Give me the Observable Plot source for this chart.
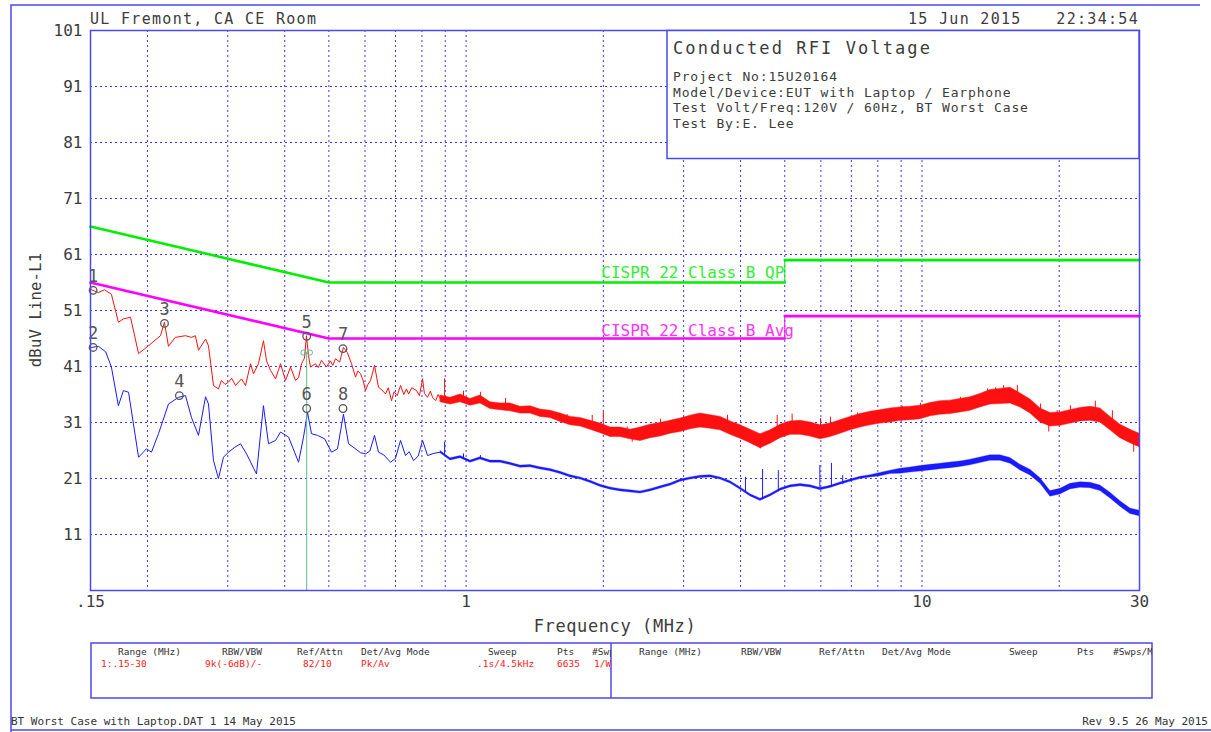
<!DOCTYPE html>
<html><head><meta charset="utf-8">
<script src="https://cdn.jsdelivr.net/npm/d3@7"></script>
<script src="https://cdn.jsdelivr.net/npm/@observablehq/plot@0.6"></script>
<style>
body{margin:0;background:#fff;}
#chart{width:1211px;height:732px;}
</style></head><body><div id="chart"></div>
<script>
const FONT = "'DejaVu Sans Mono', monospace";

// ---------- data ----------
// Peak (red) trace, low frequency part (MHz, dBuV)
const peakFreq = [0.15,0.1508,0.156,0.161,0.1667,0.1727,0.1771,0.1836,0.1912,0.201,0.2136,0.2179,0.2224,0.2302,0.2424,0.2498,0.2548,0.2588,0.2682,0.2722,0.2792,0.2863,0.2906,0.296,0.3011,0.306,0.312,0.3216,0.3282,0.3366,0.3417,0.3504,0.3593,0.365,0.3724,0.382,0.3917,0.4017,0.412,0.4225,0.429,0.4355,0.442,0.4466,0.451,0.4557,0.4673,0.474,0.4818,0.4941,0.504,0.51,0.517,0.528,0.5382,0.549,0.5606,0.572,0.579,0.5867,0.594,0.6017,0.609,0.6171,0.6296,0.6424,0.654,0.6656,0.675,0.6861,0.695,0.706,0.7181,0.73,0.74,0.7477,0.76,0.7786,0.79,0.8026,0.81,0.823,0.835,0.845,0.8575,0.868,0.8789];
const peakLevel = [55.0,54.7,54.2,54.7,53.9,48.9,49.5,49.8,43.3,44.7,46.5,48.9,44.6,46.2,46.5,46.2,46.5,43.9,45.9,44.7,37.6,37.0,38.5,37.8,38.2,38.9,37.6,38.8,37.6,41.5,39.7,41.5,45.6,42.0,40.3,38.8,41.5,38.5,40.9,38.5,39.0,41.5,42.5,46.5,43.0,40.9,41.5,40.8,42.1,40.9,42.0,41.2,42.4,41.8,44.4,43.5,41.5,39.1,40.2,39.7,38.6,36.7,37.8,38.5,41.2,37.3,36.8,36.1,37.2,34.9,36.5,35.8,37.6,36.0,37.0,36.1,37.2,36.7,35.8,38.8,36.2,35.5,36.6,35.4,34.9,36.0,35.2];

// Average (blue) trace, low frequency part
const avgFreq = [0.15,0.1508,0.1562,0.162,0.1667,0.1727,0.1771,0.1818,0.1912,0.199,0.2041,0.2115,0.2224,0.234,0.2424,0.2498,0.2588,0.2682,0.2722,0.2792,0.2863,0.2936,0.3011,0.31,0.32,0.3299,0.3469,0.3593,0.3686,0.382,0.3917,0.4079,0.429,0.4399,0.4489,0.458,0.4722,0.4893,0.5068,0.5223,0.5382,0.5522,0.572,0.5867,0.6017,0.615,0.6296,0.6424,0.66,0.6827,0.7,0.7181,0.7363,0.75,0.767,0.785,0.8026,0.823,0.85,0.8789];
const avgLevel = [44.2,44.4,44.6,43.6,40.9,34.0,36.7,36.4,24.8,26.3,25.7,29.0,34.3,35.5,35.8,31.9,28.7,35.6,34.3,24.2,21.0,24.8,25.7,26.5,27.2,25.4,21.8,34.0,27.2,27.8,29.3,28.4,23.9,28.4,32.8,29.0,28.7,28.1,25.7,26.3,32.5,27.2,26.3,25.6,25.4,25.9,28.7,25.7,25.2,23.9,24.6,27.8,25.1,25.8,24.2,25.0,27.8,25.1,25.5,25.7];

// Dense sweep region (0.88 - 30 MHz): band envelope of each trace
const bandFreq = [0.879,0.924,0.972,1.022,1.075,1.131,1.19,1.251,1.316,1.384,1.456,1.531,1.611,1.695,1.782,1.875,1.972,2.074,2.181,2.294,2.413,2.538,2.67,2.808,2.953,3.106,3.267,3.436,3.614,3.801,3.998,4.205,4.423,4.652,4.893,5.147,5.413,5.694,5.989,6.299,6.625,6.968,7.329,7.709,8.108,8.528,8.97,9.435,9.923,10.44,10.98,11.55,12.14,12.77,13.43,14.13,14.86,15.63,16.44,17.29,18.19,19.13,20.12,21.16,22.26,23.41,24.62,25.9,27.24,28.65,30.0];
const peakBandLo = [34.6,34.2,34.6,34.0,34.4,33.4,33.2,33.0,32.6,32.6,32.0,31.8,31.1,30.5,30.3,29.7,29.1,28.4,28.4,28.0,27.7,28.2,28.5,29.0,29.3,29.8,30.1,29.9,29.6,28.8,28.1,27.3,26.4,27.2,28.2,28.8,28.8,28.5,28.0,28.4,29.0,29.6,30.1,30.5,30.8,31.0,31.3,31.4,31.6,32.1,32.4,32.5,32.8,33.1,33.7,34.2,34.3,34.4,33.7,32.6,31.0,30.3,30.4,30.8,31.2,31.3,31.0,29.6,28.2,27.3,26.6];
const peakBandHi = [35.8,35.4,36.0,35.2,35.8,34.6,34.4,34.4,33.8,33.9,33.3,33.1,32.6,32.0,31.8,31.3,30.8,30.1,30.1,29.7,30.1,30.6,30.9,31.3,31.7,32.2,32.6,32.3,32.0,31.2,30.5,29.7,28.9,29.6,30.6,31.2,31.3,31.0,30.5,30.8,31.4,32.0,32.5,32.9,33.2,33.5,33.7,33.8,34.0,34.5,34.8,34.9,35.2,35.5,36.1,36.8,37.0,37.2,36.2,35.1,33.5,32.7,32.8,33.2,33.6,33.8,33.5,32.0,30.6,29.7,29.0];
const avgBandLo = [25.5,24.2,24.6,23.8,24.4,23.8,23.8,23.4,22.9,23.0,22.6,22.3,21.8,21.2,20.8,20.2,19.5,19.0,18.7,18.5,18.3,18.7,19.2,19.7,20.4,20.8,21.1,21.2,20.8,20.1,19.0,17.8,17.0,17.8,18.8,19.4,19.6,19.4,18.9,19.3,19.9,20.4,20.9,21.2,21.4,21.8,21.85,22.05,22.25,22.45,22.65,22.85,23.05,23.35,23.75,24.15,24.15,23.65,22.45,21.55,20.05,17.75,18.15,19.05,19.35,19.25,18.75,17.45,15.95,14.65,14.25];
const avgBandHi = [25.9,24.6,25.0,24.2,24.8,24.2,24.2,23.8,23.3,23.4,23.0,22.7,22.2,21.6,21.2,20.6,19.9,19.4,19.1,18.9,18.7,19.1,19.6,20.1,20.8,21.2,21.5,21.6,21.2,20.5,19.4,18.2,17.4,18.2,19.2,19.8,20.0,19.8,19.3,19.7,20.3,20.8,21.3,21.6,22.0,22.4,22.75,22.95,23.25,23.45,23.65,23.85,24.05,24.35,24.75,25.15,25.15,24.65,23.45,22.55,21.05,18.75,19.15,20.05,20.35,20.25,19.75,18.45,16.95,15.65,15.25];

// Narrow spikes in the dense region
const peakSpikeFreq = [0.897,0.987,1.075,1.22,1.316,1.456,1.666,1.782,1.891,2.0,2.256,2.314,2.454,2.67,2.855,3.218,3.379,3.744,3.998,4.269,4.423,4.812,5.19,5.989,6.299,7.22,7.974,9.06,9.923,10.80,12.14,12.88,13.92,14.5,15.1,16.19,18.19,18.97,19.79,21.16,24.0,26.16,29.13];
const peakSpikeLo = [34.8,35.0,35.0,34.0,32.8,32.3,31.5,30.8,30.5,29.5,29.0,27.5,29.0,29.5,30.3,30.5,31.0,29.8,29.5,26.9,26.3,29.5,30.0,28.1,30.0,30.5,31.5,31.5,33.0,33.0,33.5,34.0,35.0,35.5,35.5,35.0,32.5,29.3,31.5,32.0,32.5,31.0,25.7];
const peakSpikeHi = [38.8,36.6,36.4,35.3,33.7,33.1,32.4,31.7,32.25,32.8,30.2,28.5,29.9,31.6,31.4,32.0,32.25,32.3,30.5,28.0,28.7,32.25,32.5,31.7,31.95,32.7,33.1,33.9,34.45,34.6,35.5,35.6,37.0,37.2,37.6,37.6,34.3,31.0,33.1,34.0,34.8,33.1,27.5];
const avgSpikeFreq = [0.897,0.987,1.075,4.10,4.47,4.84,5.97,6.33,6.70];
const avgSpikeLo = [25.2,24.4,24.4,18.4,17.2,18.6,19.1,19.5,19.9];
const avgSpikeHi = [27.5,25.4,25.1,21.2,22.6,22.4,23.3,23.7,21.5];

// CISPR 22 Class B limits
const qpFreq = [0.15,0.5,5,5,30];
const qpLevel = [66,56,56,60,60];
const limitSeg = ["a","a","a","b","b"];
const avLimitFreq = [0.15,0.5,5,5,30];
const avLimitLevel = [56,46,46,50,50];
const limitStepFreq = 5;
const limitLabels = ["CISPR 22 Class B QP","CISPR 22 Class B Avg"];
const limitLabelFreq = [1.98,1.98];
const limitLabelLevel = [57.7,47.4];

// Markers
const markerLabel = ["1","2","3","4","5","6","7","8"];
const markerFreq = [0.152,0.152,0.218,0.235,0.447,0.447,0.537,0.537];
const markerLevel = [54.6,44.4,48.7,35.8,46.4,33.5,44.2,33.5];
const cursorFreq = 0.447;
const cursorLevel = 43.5;

// Axes
const yTicks = [11,21,31,41,51,61,71,81,91,101];
const xTicks = [0.15,1,10,30];
const xTickLabels = [".15","1","10","30"];
const xGrid = [0.2,0.3,0.4,0.5,0.6,0.7,0.8,0.9,1,2,3,4,5,6,7,8,9,10,20];
const yGrid = [11,21,31,41,51,61,71,81,91];

// Text furniture
const headerLeft = "UL Fremont, CA CE Room";
const headerDate = "15 Jun 2015";
const headerTime = "22:34:54";
const yTitle = "dBuV Line-L1";
const xTitle = "Frequency (MHz)";
const infoTitle = "Conducted RFI Voltage";
const infoLines = ["Project No:15U20164","Model/Device:EUT with Laptop / Earphone","Test Volt/Freq:120V / 60Hz, BT Worst Case","Test By:E. Lee"];
const tableHeads = ["Range (MHz)","RBW/VBW","Ref/Attn","Det/Avg Mode","Sweep","Pts","#Swp"];
const tableHeads2 = ["Range (MHz)","RBW/VBW","Ref/Attn","Det/Avg Mode","Sweep","Pts","#Swps/M"];
const tableRow = ["1:.15-30","9k(-6dB)/-","82/10","Pk/Av",".1s/4.5kHz","6635","1/W"];
const footerLeft = "BT Worst Case with Laptop.DAT 1 14 May 2015";
const footerRight = "Rev 9.5 26 May 2015";

// ---------- chart ----------
const RED = "#ff1010", BLUE = "#1a1aff", GRID = "#3a3aff", FRAME = "#4a4aee";
const GREEN = "#00ee00", MAG = "#ff00ff", TXT = "#3c3c3c", CURSOR = "#5cb890";
const xLab = new Map(xTicks.map((t,i)=>[t,xTickLabels[i]]));
const idx = a => a.map((_,i)=>i);

const plot = Plot.plot({
  width:1211, height:732,
  marginLeft:90, marginRight:72, marginTop:30, marginBottom:142,
  style:{fontFamily:FONT, fontSize:"16px", background:"#fff", color:TXT},
  x:{type:"log", domain:[0.15,30]},
  y:{domain:[1,101]},
  marks:[
    Plot.ruleX(xGrid,{stroke:GRID, strokeDasharray:"2,3", strokeWidth:1}),
    Plot.ruleY(yGrid,{stroke:GRID, strokeDasharray:"2,3", strokeWidth:1}),
    Plot.axisX(xTicks,{tickSize:0, tickPadding:5, tickFormat:d=>xLab.get(d), label:null, fill:TXT, fontSize:16}),
    Plot.axisY(yTicks,{tickSize:0, tickPadding:8, label:null, fill:TXT, fontSize:16}),
    // limits
    Plot.line(idx(qpFreq),{x:i=>qpFreq[i], y:i=>qpLevel[i], z:i=>limitSeg[i], stroke:GREEN, strokeWidth:2.6}),
    Plot.line(idx(avLimitFreq),{x:i=>avLimitFreq[i], y:i=>avLimitLevel[i], z:i=>limitSeg[i], stroke:MAG, strokeWidth:2.6}),
    Plot.ruleX([limitStepFreq],{y1:qpLevel[2], y2:qpLevel[3], stroke:GREEN, strokeWidth:1}),
    Plot.ruleX([limitStepFreq],{y1:avLimitLevel[2], y2:avLimitLevel[3], stroke:MAG, strokeWidth:1}),
    Plot.text(idx(limitLabels),{x:i=>limitLabelFreq[i], y:i=>limitLabelLevel[i], text:i=>limitLabels[i],
      fill:i=>i===0?"#33ee33":"#ff33ff", textAnchor:"start", fontSize:16, fontFamily:FONT, letterSpacing:"1.2px"}),
    // peak trace
    Plot.line(idx(peakFreq),{x:i=>peakFreq[i], y:i=>peakLevel[i], stroke:RED, strokeWidth:1}),
    Plot.areaY(idx(bandFreq),{x:i=>bandFreq[i], y1:i=>peakBandLo[i], y2:i=>peakBandHi[i], fill:RED, stroke:RED, strokeWidth:0.5}),
    Plot.ruleX(idx(peakSpikeFreq),{x:i=>peakSpikeFreq[i], y1:i=>peakSpikeLo[i], y2:i=>peakSpikeHi[i], stroke:RED, strokeWidth:1}),
    // average trace
    Plot.line(idx(avgFreq),{x:i=>avgFreq[i], y:i=>avgLevel[i], stroke:BLUE, strokeWidth:1}),
    Plot.areaY(idx(bandFreq),{x:i=>bandFreq[i], y1:i=>avgBandLo[i], y2:i=>avgBandHi[i], fill:BLUE, stroke:BLUE, strokeWidth:0.3}),
    Plot.ruleX(idx(avgSpikeFreq),{x:i=>avgSpikeFreq[i], y1:i=>avgSpikeLo[i], y2:i=>avgSpikeHi[i], stroke:BLUE, strokeWidth:1}),
    // cursor with its double-circle readout symbol
    Plot.ruleX([cursorFreq],{y1:1, y2:cursorLevel, stroke:CURSOR, strokeWidth:1}),
    Plot.dot([cursorFreq],{x:d=>d, y:cursorLevel, r:2.6, stroke:CURSOR, strokeWidth:1, fill:"none", dx:-3.2}),
    Plot.dot([cursorFreq],{x:d=>d, y:cursorLevel, r:2.6, stroke:CURSOR, strokeWidth:1, fill:"none", dx:3.2}),
    // markers: small circle at the marked point, number above
    Plot.dot(idx(markerLabel),{x:i=>markerFreq[i], y:i=>markerLevel[i], r:3.8, stroke:"#555", strokeWidth:1.3, fill:"none"}),
    Plot.text(idx(markerLabel),{x:i=>markerFreq[i], y:i=>markerLevel[i], text:i=>markerLabel[i],
      fill:"#555", fontSize:17, fontFamily:FONT, dy:-14}),
    Plot.frame({stroke:FRAME, strokeWidth:1.5})
  ]
});
document.getElementById("chart").appendChild(plot);

// ---------- page furniture ----------
const svg = d3.select(plot);
function txt(x, y, s, o = {}) {
  return svg.append("text").attr("x", x).attr("y", y).text(s)
    .attr("font-family", FONT).attr("font-size", o.size || 15)
    .attr("fill", o.fill || TXT).attr("text-anchor", o.anchor || "start")
    .attr("letter-spacing", o.ls != null ? o.ls : 0)
    .attr("transform", o.rotate ? `rotate(-90 ${x} ${y})` : null);
}
// outer frame
svg.append("path").attr("d","M11,732 L11,5 L1200,5").attr("fill","none").attr("stroke",FRAME).attr("stroke-width",1.5);
svg.append("line").attr("x1",11).attr("x2",1211).attr("y1",730).attr("y2",730).attr("stroke",FRAME).attr("stroke-width",1.5);
// header
txt(90, 24, headerLeft, {size:15, ls:1.3});
txt(908, 24, headerDate, {size:15, ls:1.3});
txt(1139, 24, headerTime, {size:15, ls:1.3, anchor:"end"});
// axis titles
txt(41, 310, yTitle, {size:15.5, anchor:"middle", rotate:true, ls:0.2});
txt(615, 632, xTitle, {size:17, anchor:"middle", ls:0.6});
// info box
svg.append("rect").attr("x",667).attr("y",30.5).attr("width",472).attr("height",128).attr("fill","#fff").attr("stroke",FRAME).attr("stroke-width",1.5);
txt(673, 54, infoTitle, {size:17, ls:2.1});
infoLines.forEach((s,i)=>txt(673, 81 + i*15.6, s, {size:13, ls:0.85}));
// bottom table
svg.append("rect").attr("x",91).attr("y",643).attr("width",1061).attr("height",55).attr("fill","none").attr("stroke",FRAME).attr("stroke-width",1.5);
svg.append("line").attr("x1",611).attr("x2",611).attr("y1",643).attr("y2",698).attr("stroke",FRAME).attr("stroke-width",1.5);
svg.append("clipPath").attr("id","cl").append("rect").attr("x",91).attr("y",640).attr("width",520).attr("height",60);
svg.append("clipPath").attr("id","cr").append("rect").attr("x",611).attr("y",640).attr("width",541).attr("height",60);
const colL = [118,222,297,361,488,557,592];
const colRowL = [101,205,303,361,477,557,594];
const colR = [639,741,819,882,1009,1077,1113];
tableHeads.forEach((s,i)=>txt(colL[i], 655, s, {size:9.5, fill:"#333"}).attr("clip-path","url(#cl)"));
tableRow.forEach((s,i)=>txt(colRowL[i], 667, s, {size:9.5, fill:"#ff2020"}).attr("clip-path","url(#cl)"));
tableHeads2.forEach((s,i)=>txt(colR[i], 655, s, {size:9.5, fill:"#333"}).attr("clip-path","url(#cr)"));
// footer
txt(11, 725, footerLeft, {size:11, fill:"#333"});
txt(1208, 725, footerRight, {size:11, fill:"#333", anchor:"end"});
</script></body></html>
